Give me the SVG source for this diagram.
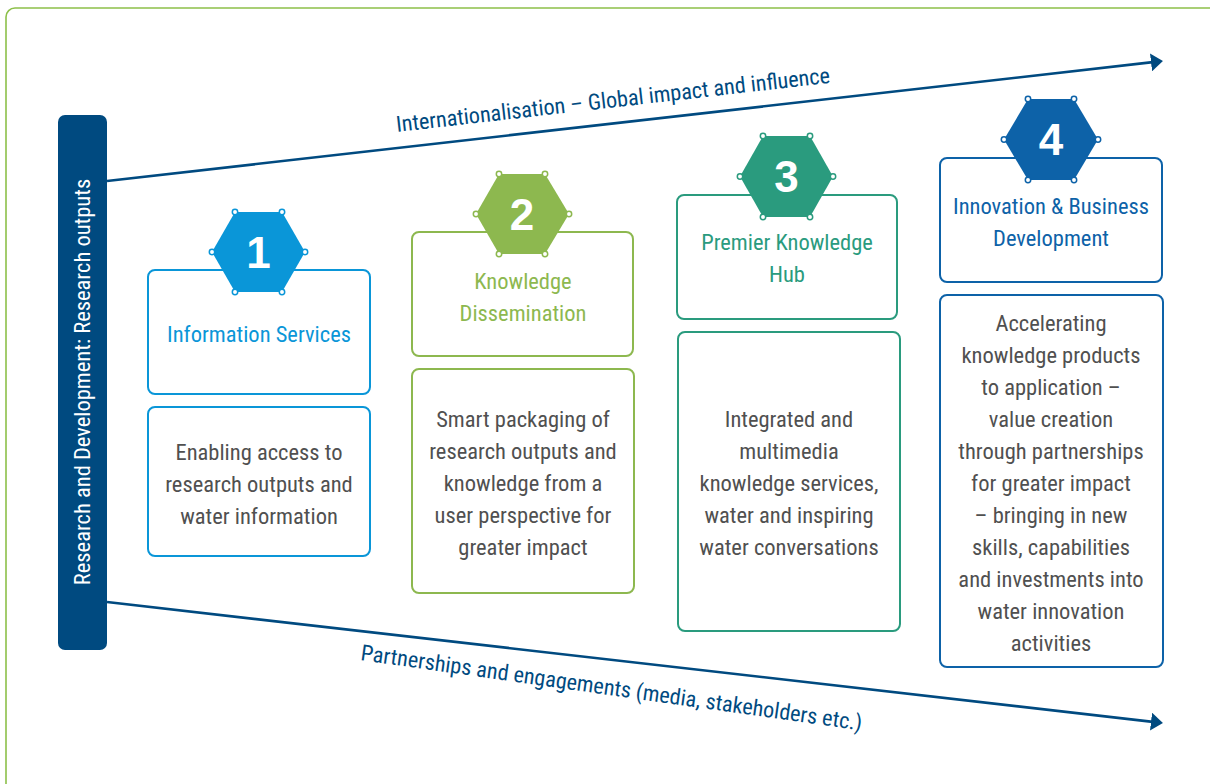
<svg xmlns="http://www.w3.org/2000/svg" width="1210" height="784" viewBox="0 0 1210 784">
<defs>
<style>
.t{font-family:"Liberation Sans Narrow","Roboto Condensed","Liberation Sans",Arial,sans-serif;font-size:22.5px;text-anchor:middle}
.body{fill:#505050}
.box{fill:#fff;stroke-width:2}
.num{font-family:"Liberation Sans",Arial,sans-serif;font-weight:bold;font-size:44px;fill:#fff;text-anchor:middle}
.dot{fill:#fff;stroke-width:1.5}
.arr{fill:none;stroke:#004a80;stroke-width:2.6}
.lbl{font-family:"Liberation Sans Narrow","Roboto Condensed","Liberation Sans",Arial,sans-serif;font-size:22.2px;fill:#004a80}
</style>
<marker id="ah" viewBox="0 0 12 18" refX="4" refY="9" markerWidth="12" markerHeight="18" markerUnits="userSpaceOnUse" orient="auto">
<path d="M0,0 L12,9 L0,18 z" fill="#004a80"/>
</marker>
</defs>
<rect x="6" y="8" width="1240" height="820" rx="9" fill="#fff" stroke="#8dc04a" stroke-width="1.6"/>

<g id="connectors">
<line class="arr" x1="107" y1="181" x2="1155" y2="61.9" marker-end="url(#ah)"/>
<line class="arr" x1="107" y1="602" x2="1155" y2="722.1" marker-end="url(#ah)"/>
<text class="lbl" x="397" y="132" transform="rotate(-6.48 397 132)">Internationalisation – Global impact and influence</text>
<text class="lbl" x="360" y="660" transform="rotate(8 360 660)">Partnerships and engagements (media, stakeholders etc.)</text>
</g>

<g id="rd-bar">
<rect x="58" y="115" width="49" height="535" rx="7" fill="#004a80"/>
<text class="t" x="0" y="0" fill="#fff" transform="translate(90 382) rotate(-90)">Research and Development: Research outputs</text>
</g>

<g id="node1">
<rect class="box" x="148" y="270" width="222" height="124" rx="7" stroke="#0a96d8"/>
<rect class="box" x="148" y="407" width="222" height="149" rx="7" stroke="#0a96d8"/>
<polygon points="235,212 282,212 305,252 282,292 235,292 212,252" fill="#0a96d8"/>
<g class="dot" stroke="#0a96d8">
<circle cx="235" cy="212" r="2.7"/><circle cx="282" cy="212" r="2.7"/><circle cx="305" cy="252" r="2.7"/>
<circle cx="282" cy="292" r="2.7"/><circle cx="235" cy="292" r="2.7"/><circle cx="212" cy="252" r="2.7"/>
</g>
<text class="num" x="258.5" y="268">1</text>
<text class="t" x="259" y="342" fill="#0a96d8">Information Services</text>
<text class="t body" x="259" y="460">Enabling access to</text>
<text class="t body" x="259" y="492">research outputs and</text>
<text class="t body" x="259" y="524">water information</text>
</g>

<g id="node2">
<rect class="box" x="412" y="232" width="221" height="124" rx="7" stroke="#8db84f"/>
<rect class="box" x="412" y="369" width="222" height="224" rx="7" stroke="#8db84f"/>
<polygon points="499,174 545,174 569,214 545,254 499,254 476,214" fill="#8db84f"/>
<g class="dot" stroke="#8db84f">
<circle cx="499" cy="174" r="2.7"/><circle cx="545" cy="174" r="2.7"/><circle cx="569" cy="214" r="2.7"/>
<circle cx="545" cy="254" r="2.7"/><circle cx="499" cy="254" r="2.7"/><circle cx="476" cy="214" r="2.7"/>
</g>
<text class="num" x="522" y="230">2</text>
<text class="t" x="523" y="289" fill="#8db84f">Knowledge</text>
<text class="t" x="523" y="321" fill="#8db84f">Dissemination</text>
<text class="t body" x="523" y="427">Smart packaging of</text>
<text class="t body" x="523" y="459">research outputs and</text>
<text class="t body" x="523" y="491">knowledge from a</text>
<text class="t body" x="523" y="523">user perspective for</text>
<text class="t body" x="523" y="555">greater impact</text>
</g>

<g id="node3">
<rect class="box" x="677" y="195" width="220" height="124" rx="7" stroke="#2a9b7e"/>
<rect class="box" x="678" y="332" width="222" height="299" rx="7" stroke="#2a9b7e"/>
<polygon points="763,136 810,136 833,176.5 810,217 763,217 740,176.5" fill="#2a9b7e"/>
<g class="dot" stroke="#2a9b7e">
<circle cx="763" cy="136" r="2.7"/><circle cx="810" cy="136" r="2.7"/><circle cx="833" cy="176.5" r="2.7"/>
<circle cx="810" cy="217" r="2.7"/><circle cx="763" cy="217" r="2.7"/><circle cx="740" cy="176.5" r="2.7"/>
</g>
<text class="num" x="786.5" y="192">3</text>
<text class="t" x="787" y="250" fill="#2a9b7e">Premier Knowledge</text>
<text class="t" x="787" y="282" fill="#2a9b7e">Hub</text>
<text class="t body" x="789" y="427">Integrated and</text>
<text class="t body" x="789" y="459">multimedia</text>
<text class="t body" x="789" y="491">knowledge services,</text>
<text class="t body" x="789" y="523">water and inspiring</text>
<text class="t body" x="789" y="555">water conversations</text>
</g>

<g id="node4">
<rect class="box" x="940" y="158" width="222" height="124" rx="7" stroke="#0d62a8"/>
<rect class="box" x="940" y="295" width="223" height="372" rx="7" stroke="#0d62a8"/>
<polygon points="1028,99 1074,99 1098,139.5 1074,180 1028,180 1004,139.5" fill="#0d62a8"/>
<g class="dot" stroke="#0d62a8">
<circle cx="1028" cy="99" r="2.7"/><circle cx="1074" cy="99" r="2.7"/><circle cx="1098" cy="139.5" r="2.7"/>
<circle cx="1074" cy="180" r="2.7"/><circle cx="1028" cy="180" r="2.7"/><circle cx="1004" cy="139.5" r="2.7"/>
</g>
<text class="num" x="1051" y="155">4</text>
<text class="t" x="1051" y="214" fill="#0d62a8">Innovation &amp; Business</text>
<text class="t" x="1051" y="246" fill="#0d62a8">Development</text>
<text class="t body" x="1051" y="331">Accelerating</text>
<text class="t body" x="1051" y="363">knowledge products</text>
<text class="t body" x="1051" y="395">to application –</text>
<text class="t body" x="1051" y="427">value creation</text>
<text class="t body" x="1051" y="459">through partnerships</text>
<text class="t body" x="1051" y="491">for greater impact</text>
<text class="t body" x="1051" y="523">– bringing in new</text>
<text class="t body" x="1051" y="555">skills, capabilities</text>
<text class="t body" x="1051" y="587">and investments into</text>
<text class="t body" x="1051" y="619">water innovation</text>
<text class="t body" x="1051" y="651">activities</text>
</g>
</svg>
